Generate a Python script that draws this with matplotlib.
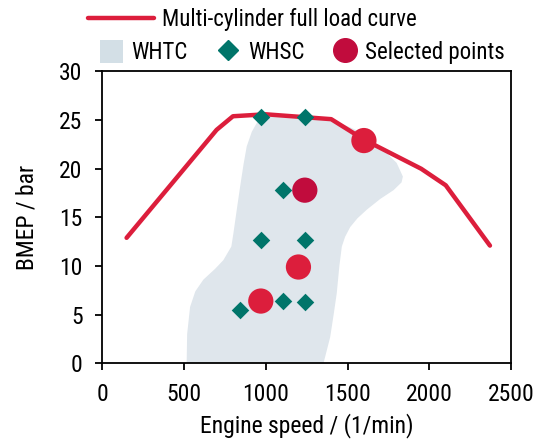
import numpy as np
import matplotlib.pyplot as plt
from matplotlib.lines import Line2D
from matplotlib.patches import Patch

plt.rcParams['font.family'] = ['Roboto Condensed', 'DejaVu Sans']
plt.rcParams['font.size'] = 17

# full load curve
flc_speed = [150, 700, 800, 1000, 1400, 1600, 1950, 2100, 2370]
flc_bmep = [12.9, 24.0, 25.4, 25.6, 25.1, 23.0, 20.0, 18.3, 12.1]

# WHSC points
whsc_speed = [974, 1241, 1108, 974, 1241, 844, 1108, 1241]
whsc_bmep = [25.3, 25.3, 17.8, 12.7, 12.7, 5.5, 6.4, 6.3]

# selected points
sel_speed = [1600, 1239, 1200, 970]
sel_bmep = [22.9, 17.8, 9.9, 6.4]
sel_dark = [False, True, False, False]

# WHTC area outline
whtc_speed = [517, 520, 538, 570, 619, 690, 741, 790, 803, 825, 844, 865, 884, 915, 945, 975,
              1100, 1250, 1400, 1550, 1658, 1740, 1800, 1838, 1830, 1781, 1700, 1618, 1560,
              1516, 1485, 1465, 1450, 1434, 1415, 1394, 1353]
whtc_bmep = [0.0, 3.0, 5.8, 7.4, 8.6, 9.7, 10.6, 12.0, 13.4, 16.0, 18.2, 20.5, 22.3, 23.8, 24.7, 25.4,
             25.5, 25.4, 25.1, 24.0, 22.6, 21.6, 20.6, 19.2, 18.6, 17.8, 16.9, 15.8, 14.9,
             14.0, 13.0, 12.0, 10.0, 7.2, 5.0, 2.7, 0.0]

fig = plt.figure(figsize=(5.37, 4.46), dpi=100)
ax = fig.add_axes([0.19, 0.1854, 0.762, 0.6543])

ax.fill(whtc_speed, whtc_bmep, color='#dfe6ec', lw=0, zorder=1)
ax.plot(flc_speed, flc_bmep, color='#dc1e3c', lw=3.2, solid_capstyle='round', zorder=2)
ax.scatter(whsc_speed, whsc_bmep, marker='D', s=80, color='#00756a', lw=0, zorder=3)
sel_cols = ['#c10c3d' if d else '#dc1e3c' for d in sel_dark]
ax.scatter(sel_speed, sel_bmep, marker='o', s=330, c=sel_cols, lw=0, zorder=4)

ax.set_xlim(0, 2500)
ax.set_ylim(0, 30)
ax.set_xticks(np.arange(0, 2501, 500))
ax.set_yticks(np.arange(0, 31, 5))
ax.tick_params(direction='out', length=5, width=1.3, colors='black', pad=9)
for s in ax.spines.values():
    s.set_linewidth(1.3)
ax.set_xlabel('Engine speed / (1/min)', labelpad=5)
ax.set_ylabel('BMEP / bar', labelpad=15)

h1 = [Line2D([], [], color='#dc1e3c', lw=3.2, solid_capstyle='round')]
leg1 = fig.legend(h1, ['Multi-cylinder full load curve'], loc='center',
                  bbox_to_anchor=(0.47, 0.957), frameon=False, handlelength=2.9,
                  handletextpad=0.35, borderpad=0, fontsize=16.5)
h2 = [Patch(facecolor='#d3dfe6', edgecolor='none'),
      Line2D([], [], marker='D', ls='', color='#00756a', markersize=10),
      Line2D([], [], marker='o', ls='', color='#c10c3d', markersize=17)]
leg2 = fig.legend(h2, ['WHTC', 'WHSC', 'Selected points'], loc='center', ncol=3,
                  bbox_to_anchor=(0.563, 0.883), frameon=False, handlelength=1.0,
                  handleheight=1.2, handletextpad=0.35, columnspacing=1.3, borderpad=0,
                  fontsize=16.5)

fig.savefig('out.png', dpi=100)
